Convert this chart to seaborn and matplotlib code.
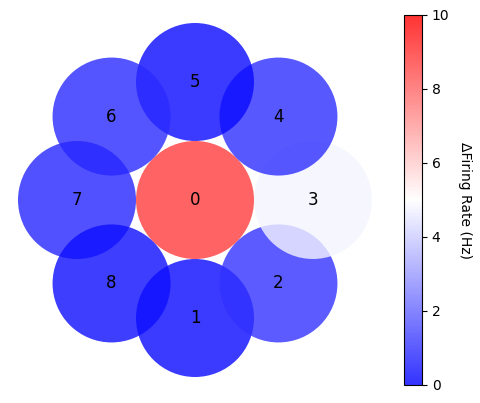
import numpy as np
import matplotlib
matplotlib.use("Agg")
import matplotlib.pyplot as plt
from matplotlib.patches import Circle
from matplotlib.colors import ListedColormap
import seaborn as sns

# channel ids and their change in firing rate (Hz)
channels = [0, 1, 2, 3, 4, 5, 6, 7, 8]
delta_rate = [8.8, 0.2, 1.0, 4.8, 0.9, 0.2, 0.85, 0.75, 0.3]
cbar_ticks = [0, 2, 4, 6, 8, 10]

sns.set_style("ticks", {"text.color": "black", "ytick.color": "black",
                        "axes.edgecolor": "black", "axes.labelcolor": "black"})

fig = plt.figure(figsize=(4.81, 4.03), dpi=100)
ax = fig.add_axes([18 / 481, 26 / 403, 354 / 481, 354 / 403])

cmap = plt.get_cmap("bwr")
norm = plt.Normalize(vmin=0, vmax=10)

# channel 0 in the middle, the rest on a ring starting at the bottom
for ch, val in zip(channels, delta_rate):
    if ch == 0:
        x, y = 0.0, 0.0
    else:
        ang = -np.pi / 2 + (ch - 1) * np.pi / 4
        x, y = np.cos(ang), np.sin(ang)
    ax.add_patch(Circle((x, y), 0.5, color=cmap(norm(val)), alpha=0.8, lw=0))
    ax.text(x, y, str(ch), ha="center", va="center", fontsize=12, color="black")

ax.set_xlim(-1.5, 1.5)
ax.set_ylim(-1.5, 1.5)
ax.set_aspect("equal")
ax.axis("off")

# same colormap, faded like the circles
cols = cmap(np.linspace(0, 1, 256))
cols[:, 3] = 0.8
sm = plt.cm.ScalarMappable(cmap=ListedColormap(cols), norm=norm)
cax = fig.add_axes([404 / 481, 18 / 403, 18 / 481, 370 / 403])
cb = fig.colorbar(sm, cax=cax, ticks=cbar_ticks)
cb.outline.set_edgecolor("black")
cb.outline.set_linewidth(0.8)
cax.tick_params(length=3.5, width=0.8, colors="black")
cb.set_label("ΔFiring Rate (Hz)", rotation=270, labelpad=16)

fig.savefig("out.png", dpi=100)
